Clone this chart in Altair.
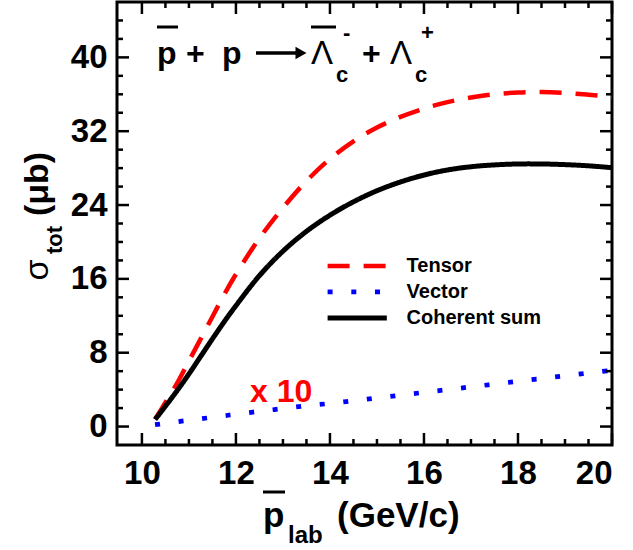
import altair as alt
import pandas as pd

# ---------------- data ----------------
p_lab = [10.28, 10.5, 10.75, 11.0, 11.25, 11.5, 11.75, 12.0, 12.5, 13.0, 13.5, 14.0,
         14.5, 15.0, 15.5, 16.0, 16.5, 17.0, 17.5, 18.0, 18.5, 19.0, 19.5, 20.0]
tensor = [0.8, 2.6, 4.7, 7.1, 9.5, 11.9, 14.3, 16.5, 20.4, 23.7, 26.6, 29.0,
          30.9, 32.4, 33.55, 34.45, 35.15, 35.65, 36.0, 36.2, 36.25, 36.15, 35.95, 35.7]
vector_x10 = [0.2, 0.35, 0.52, 0.68, 0.84, 1.0, 1.17, 1.33, 1.65, 1.95, 2.25, 2.5,
              2.8, 3.1, 3.4, 3.7, 4.0, 4.3, 4.6, 4.9, 5.2, 5.5, 5.8, 6.1]
coherent = [0.76, 2.2, 3.9, 5.7, 7.6, 9.5, 11.35, 13.1, 16.35, 19.0, 21.15, 22.9,
            24.35, 25.55, 26.5, 27.25, 27.8, 28.15, 28.35, 28.45, 28.45, 28.38, 28.25, 28.05]

series_names = ["Tensor", "Vector", "Coherent sum"]
series_colors = ["#ff0000", "#0000ff", "#000000"]
series_dash = [[22, 14], [5, 18.7], [1, 0]]
series_width = [4.5, 5, 4]

x_major = [10, 12, 14, 16, 18, 20]
x_minor = [10.5, 11, 11.5, 12.5, 13, 13.5, 14.5, 15, 15.5, 16.5, 17, 17.5, 18.5, 19, 19.5]
y_major = [0, 8, 16, 24, 32, 40]
y_minor = [2, 4, 6, 10, 12, 14, 18, 20, 22, 26, 28, 30, 34, 36, 38, 42, 44]

# legend entries (in data units)
legend_y = [17.4, 14.58, 11.76]
legend_x1, legend_x2, legend_tx = 13.95, 15.21, 15.63

# ---------------- build tables ----------------
rows = []
for name, vals in zip(series_names, [tensor, vector_x10, coherent]):
    for x, y in zip(p_lab, vals):
        rows.append({"series": name, "p": x, "sigma": y})
df = pd.DataFrame(rows)

legend_df = pd.DataFrame({"series": series_names, "y": legend_y,
                          "x1": [legend_x1] * 3, "x2": [legend_x2] * 3,
                          "tx": [legend_tx] * 3})

W, H = 495, 443
FONT = "Liberation Sans"

xs = alt.Scale(domain=[9.47, 20], nice=False, zero=False)
ys = alt.Scale(domain=[-2, 46], nice=False, zero=False)
x_axis = alt.Axis(values=x_major, title=None, ticks=False, domain=False, grid=False,
                  labelFont=FONT, labelFontWeight="bold", labelFontSize=33,
                  labelPadding=12, labelColor="black", format="d")
y_axis = alt.Axis(values=y_major, title=None, ticks=False, domain=False, grid=False,
                  labelFont=FONT, labelFontWeight="bold", labelFontSize=33,
                  labelPadding=10, labelColor="black", format="d")

color_scale = alt.Scale(domain=series_names, range=series_colors)
dash_scale = alt.Scale(domain=series_names, range=series_dash)
width_scale = alt.Scale(domain=series_names, range=series_width)


def X(field):
    return alt.X(field, scale=xs, axis=x_axis)


def Y(field):
    return alt.Y(field, scale=ys, axis=y_axis)


lines = alt.Chart(df).mark_line(interpolate="catmull-rom", strokeCap="butt").encode(
    x=X("p:Q"),
    y=Y("sigma:Q"),
    color=alt.Color("series:N", scale=color_scale, legend=None),
    strokeDash=alt.StrokeDash("series:N", scale=dash_scale, legend=None),
    strokeWidth=alt.StrokeWidth("series:N", scale=width_scale, legend=None),
    detail="series:N",
)

leg_rules = alt.Chart(legend_df).mark_rule(strokeCap="butt").encode(
    x=X("x1:Q"), x2="x2:Q", y=Y("y:Q"),
    color=alt.Color("series:N", scale=color_scale, legend=None),
    strokeDash=alt.StrokeDash("series:N", scale=dash_scale, legend=None),
    strokeWidth=alt.StrokeWidth("series:N", scale=width_scale, legend=None),
)
leg_text = alt.Chart(legend_df).mark_text(
    align="left", baseline="middle", font=FONT, fontWeight="bold", fontSize=20, color="black"
).encode(x=X("tx:Q"), y=Y("y:Q"), text="series:N")

# ticks (inward, on all four sides)
tick_layers = []
for vals, ln in [(x_major, 12), (x_minor, 6)]:
    d = pd.DataFrame({"v": vals})
    tick_layers.append(alt.Chart(d).mark_rule(color="black", strokeWidth=2.5).encode(
        x=X("v:Q"), y=alt.value(H), y2=alt.value(H - ln)))
    tick_layers.append(alt.Chart(d).mark_rule(color="black", strokeWidth=2.5).encode(
        x=X("v:Q"), y=alt.value(0), y2=alt.value(ln)))
for vals, ln in [(y_major, 12), (y_minor, 6)]:
    d = pd.DataFrame({"v": vals})
    tick_layers.append(alt.Chart(d).mark_rule(color="black", strokeWidth=2.5).encode(
        y=Y("v:Q"), x=alt.value(0), x2=alt.value(ln)))
    tick_layers.append(alt.Chart(d).mark_rule(color="black", strokeWidth=2.5).encode(
        y=Y("v:Q"), x=alt.value(W), x2=alt.value(W - ln)))

# ---------------- text annotations (formula, axis titles) ----------------
dummy = pd.DataFrame({"a": [0]})
texts = [
    # text, x, y, size, weight, color, angle, baseline, align
    ("p", 40, 62, 32, "bold", "black", 0, "alphabetic", "left"),
    ("+", 69, 62, 32, "bold", "black", 0, "alphabetic", "left"),
    ("p", 105, 62, 32, "bold", "black", 0, "alphabetic", "left"),
    ("Λ", 194, 62, 33, "normal", "black", 0, "alphabetic", "left"),
    ("c", 219, 80, 22, "bold", "black", 0, "alphabetic", "left"),
    ("-", 226, 38, 22, "bold", "black", 0, "alphabetic", "left"),
    ("+", 245, 62, 32, "bold", "black", 0, "alphabetic", "left"),
    ("Λ", 273, 62, 33, "normal", "black", 0, "alphabetic", "left"),
    ("c", 298, 80, 22, "bold", "black", 0, "alphabetic", "left"),
    ("+", 304, 38, 22, "bold", "black", 0, "alphabetic", "left"),
    ("x 10", 133, 400, 32, "bold", "#ff0000", 0, "alphabetic", "left"),
    ("p", 146, 525, 35, "bold", "black", 0, "alphabetic", "left"),
    ("lab", 171, 541, 24, "bold", "black", 0, "alphabetic", "left"),
    ("(GeV/c)", 220, 525, 35, "bold", "black", 0, "alphabetic", "left"),
    ("σ", -69, 268, 34, "normal", "black", 270, "alphabetic", "center"),
    ("tot", -55, 238, 22, "bold", "black", 270, "alphabetic", "center"),
    ("(μb)", -69, 182, 34, "bold", "black", 270, "alphabetic", "center"),
]
text_layers = []
for t, x, y, s, w, c, a, b, al in texts:
    text_layers.append(alt.Chart(dummy).mark_text(
        text=t, font=FONT, fontSize=s, fontWeight=w, color=c, angle=a, baseline=b, align=al
    ).encode(x=alt.value(x), y=alt.value(y)))

bars = [  # overlines and arrow shaft: x1, x2, y, width
    (40, 61, 25, 3),
    (194, 219, 25, 3),
    (146, 168, 490, 3),
    (139, 181, 51, 3.5),
]
for x1, x2, y, sw in bars:
    text_layers.append(alt.Chart(dummy).mark_rule(color="black", strokeWidth=sw).encode(
        x=alt.value(x1), x2=alt.value(x2), y=alt.value(y)))
text_layers.append(alt.Chart(dummy).mark_point(
    shape="triangle-right", filled=True, color="black", size=160, opacity=1
).encode(x=alt.value(184), y=alt.value(51)))

chart = alt.layer(lines, leg_rules, leg_text, *tick_layers, *text_layers).properties(
    width=W, height=H,
    padding={"left": 117, "top": 2, "right": 21, "bottom": 105},
    autosize=alt.AutoSizeParams(type="none"),
).configure_view(stroke="black", strokeWidth=3)

chart.save("out.html", embed_options={"renderer": "svg", "actions": False})
